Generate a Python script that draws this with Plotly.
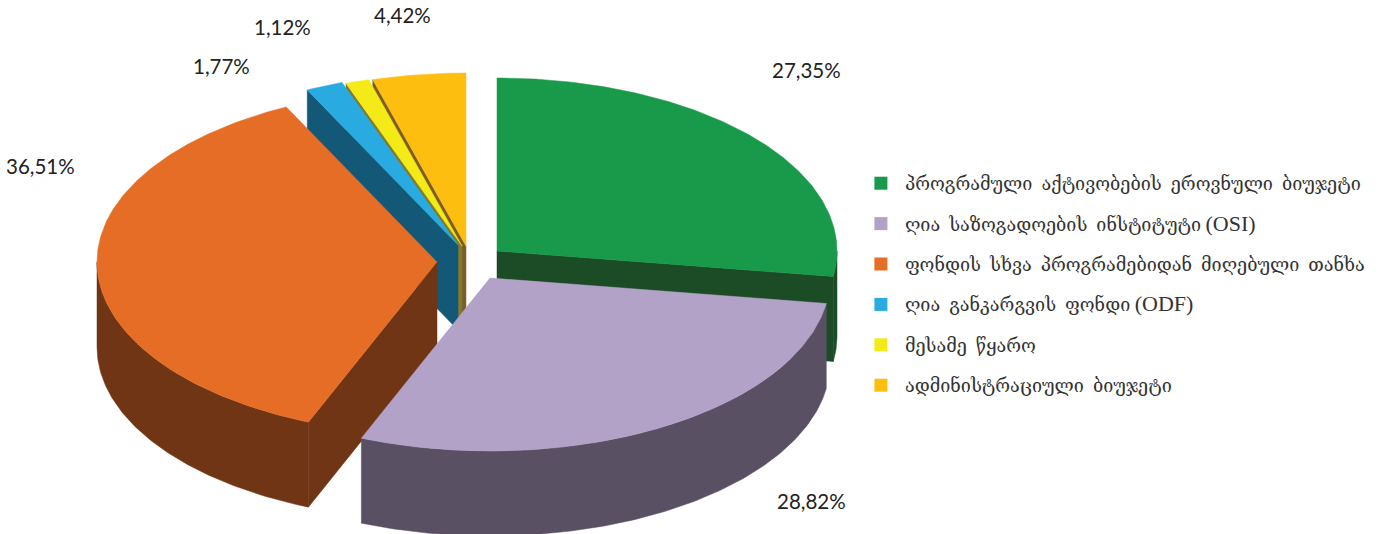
import numpy as np
import plotly.graph_objects as go

# Data
categories = ["პროგრამული  აქტივობების  ეროვნული  ბიუჯეტი",
              "ღია  საზოგადოების  ინსტიტუტი <span style=\"font-size:22px\">(OSI)</span>",
              "ფონდის  სხვა  პროგრამებიდან  მიღებული  თანხა",
              "ღია  განკარგვის  ფონდი <span style=\"font-size:22px\">(ODF)</span>",
              "მესამე  წყარო",
              "ადმინისტრაციული  ბიუჯეტი"]
values = [27.35, 28.82, 36.51, 1.77, 1.12, 4.42]
value_labels = ["27,35%", "28,82%", "36,51%", "1,77%", "1,12%", "4,42%"]

# Styling
top_colors = ["#189A4A", "#B2A2C8", "#E56D25", "#29ABE2", "#F3EA17", "#FDBE10"]
wall_colors = ["#1C4C26", "#5A5064", "#703514", "#135877", "#7F7A30", "#7F5C25"]
apex_x = [497, 490, 437, 458, 462, 466]
apex_y = [251, 278, 262, 245, 246, 246]
label_x = [806, 811, 40, 221, 282, 402]
label_y = [70, 501, 166, 66, 27, 15]
RX, RY, DEPTH = 340, 173, 85
# which radial edge of each slice shows its cut face
cut_edge = ["end", None, "start", "start", "start", "start"]
# drawing order, back to front
order = [5, 4, 3, 0, 2, 1]

total = sum(values)
starts = np.cumsum([0] + values[:-1]) / total * 2 * np.pi
ends = np.cumsum(values) / total * 2 * np.pi


def arc(i, a0, a1):
    t = np.linspace(a0, a1, max(2, int((a1 - a0) * 80)))
    return apex_x[i] + RX * np.sin(t), apex_y[i] - RY * np.cos(t)


def poly(fig, x, y, color):
    fig.add_trace(go.Scatter(x=list(x) + [x[0]], y=list(y) + [y[0]], mode="lines", fill="toself",
                             fillcolor=color, line=dict(color=color, width=0.5),
                             hoverinfo="skip", showlegend=False))


fig = go.Figure()
for i in order:
    a0, a1 = starts[i], ends[i]
    # cut face
    if cut_edge[i]:
        a = a0 if cut_edge[i] == "start" else a1
        ex, ey = apex_x[i] + RX * np.sin(a), apex_y[i] - RY * np.cos(a)
        poly(fig, [apex_x[i], ex, ex, apex_x[i]],
             [apex_y[i], ey, ey + DEPTH, apex_y[i] + DEPTH], wall_colors[i])
    # outer wall, front half only
    w0, w1 = max(a0, np.pi / 2), min(a1, 3 * np.pi / 2)
    if w1 > w0:
        ax, ay = arc(i, w0, w1)
        poly(fig, np.r_[ax, ax[::-1]], np.r_[ay, ay[::-1] + DEPTH], wall_colors[i])
    # top face
    ax, ay = arc(i, a0, a1)
    poly(fig, np.r_[apex_x[i], ax], np.r_[apex_y[i], ay], top_colors[i])

# legend entries
for name, color in zip(categories, top_colors):
    fig.add_trace(go.Scatter(x=[None], y=[None], mode="markers", name=name, legendgroup=name,
                             marker=dict(symbol="square", size=13, color=color)))

for t, x, y in zip(value_labels, label_x, label_y):
    fig.add_annotation(x=x, y=y, text=t, showarrow=False, xanchor="center", yanchor="middle",
                       font=dict(family="Lato", size=20.5, color="#222222"))

fig.update_layout(
    width=1379, height=534, margin=dict(l=0, r=0, t=0, b=0),
    paper_bgcolor="white", plot_bgcolor="white",
    xaxis=dict(range=[0, 1379], visible=False, fixedrange=True),
    yaxis=dict(range=[534, 0], visible=False, fixedrange=True),
    legend=dict(x=0.6214, y=0.691, xanchor="left", yanchor="top", tracegroupgap=14,
                itemsizing="trace", itemwidth=38, bgcolor="rgba(0,0,0,0)",
                font=dict(family="Liberation Serif, DejaVu Serif, DejaVu Sans", size=18, color="#333333")),
)
fig.write_html("out.html", post_script="document.body.style.margin='0';",
               config=dict(displayModeBar=False))
